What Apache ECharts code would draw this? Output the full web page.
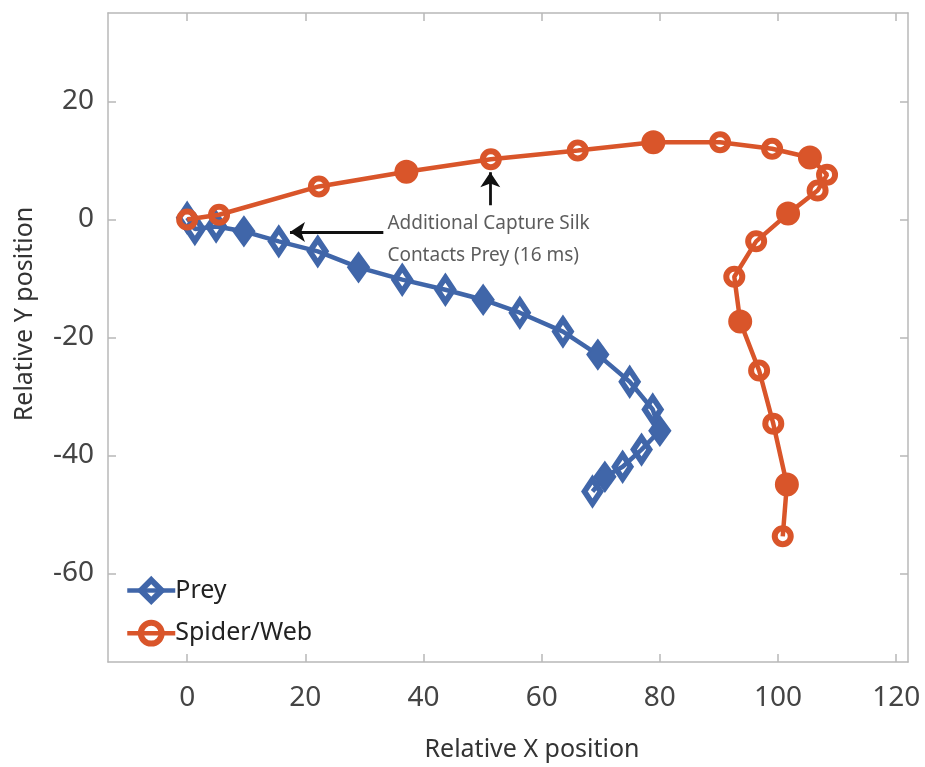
<!DOCTYPE html>
<html>
<head>
<meta charset="utf-8">
<script src="https://cdn.jsdelivr.net/npm/echarts@6/dist/echarts.min.js"></script>
<style>html,body{margin:0;padding:0;background:#fff;}#chart{width:925px;height:767px;}</style>
</head>
<body>
<div id="chart"></div>
<script>
// ---- data ----
const preyX = [0, 1.3, 4.9, 9.6, 15.5, 22.1, 29.0, 36.4, 43.7, 50.1, 56.3, 63.6, 69.5, 74.9, 78.8, 80.0, 76.9, 73.7, 70.7, 68.6];
const preyY = [0.3, -1.6, -1.2, -2.0, -3.7, -5.4, -8.1, -10.2, -11.9, -13.6, -15.8, -19.0, -22.9, -27.5, -32.2, -35.8, -39.0, -41.9, -43.6, -46.1];
const preyFilled = [3, 6, 9, 12, 15, 18];

const spiderX = [0, 5.4, 22.3, 37.1, 51.4, 66.1, 78.9, 90.2, 99.0, 105.4, 108.3, 106.7, 101.7, 96.3, 92.6, 93.6, 96.8, 99.2, 101.5, 100.8];
const spiderY = [0, 0.8, 5.6, 8.1, 10.2, 11.7, 13.1, 13.1, 12.0, 10.5, 7.6, 4.9, 1.0, -3.7, -9.7, -17.3, -25.6, -34.6, -44.9, -53.7];
const spiderFilled = [3, 6, 9, 12, 15, 18];

const xTicks = [0, 20, 40, 60, 80, 100, 120];
const yTicks = [-60, -40, -20, 0, 20];

const seriesNames = ['Prey', 'Spider/Web'];
const annotationText = ['Additional Capture Silk', 'Contacts Prey (16 ms)'];
const annotationAnchor = [33.8, -3.45];
const arrowSilk = [[33.2, -2.1], [17.4, -2.1]];
const arrowWeb = [[51.3, 2.4], [51.3, 8.0]];

// ---- style ----
const BLUE = '#4066a9';
const ORANGE = '#d9552a';
const AXIS = '#b8b8b8';
const FONT = 'Noto Sans';

function build(xs, ys, filled, color, hollowSize, filledSize, bw) {
  return xs.map((x, i) => {
    const f = filled.indexOf(i) >= 0;
    return {
      value: [x, ys[i]],
      symbolSize: f ? filledSize : hollowSize,
      itemStyle: f
        ? { color: color, borderColor: color, borderWidth: 2 }
        : { color: 'rgba(0,0,0,0)', borderColor: color, borderWidth: bw }
    };
  });
}

function xAxisDef(pos, labels) {
  return {
    type: 'value', position: pos, min: -13.4, max: 122,
    axisLine: { show: true, onZero: false, lineStyle: { color: AXIS, width: 1.5 } },
    axisTick: { show: true, inside: true, length: 8, customValues: xTicks, lineStyle: { color: AXIS, width: 1.5 } },
    axisLabel: { show: labels, customValues: xTicks, fontSize: 28, color: '#444', margin: 22, fontFamily: FONT },
    splitLine: { show: false }
  };
}
function yAxisDef(pos, labels) {
  return {
    type: 'value', position: pos, min: -75, max: 35,
    axisLine: { show: true, onZero: false, lineStyle: { color: AXIS, width: 1.5 } },
    axisTick: { show: true, inside: true, length: 8, customValues: yTicks, lineStyle: { color: AXIS, width: 1.5 } },
    axisLabel: { show: labels, customValues: yTicks, fontSize: 28, color: '#444', margin: 14, fontFamily: FONT },
    splitLine: { show: false }
  };
}

const chart = echarts.init(document.getElementById('chart'), null, { renderer: 'canvas' });
chart.setOption({
  animation: false,
  backgroundColor: '#fff',
  grid: { left: 108, top: 13, right: 17, bottom: 105, containLabel: false },
  xAxis: [xAxisDef('bottom', true), xAxisDef('top', false)],
  yAxis: [yAxisDef('left', true), yAxisDef('right', false)],
  legend: {
    data: seriesNames,
    orient: 'vertical', left: 120, top: 572,
    itemWidth: 48, itemHeight: 26, itemGap: 16,
    lineStyle: { width: 4.5 },
    itemStyle: { borderWidth: 6 },
    textStyle: { fontSize: 25, color: '#222', fontFamily: FONT, padding: [0, 0, 0, -5] }
  },
  graphic: [
    { type: 'text', position: [532, 750], style: { text: 'Relative X position', font: '25px "Noto Sans"', fill: '#333', textAlign: 'center', textVerticalAlign: 'middle' } },
    { type: 'text', rotation: Math.PI / 2, position: [25, 314], style: { text: 'Relative Y position', font: '25px "Noto Sans"', fill: '#333', textAlign: 'center', textVerticalAlign: 'middle' } }
  ],
  series: [
    {
      name: seriesNames[0], type: 'line', symbol: 'diamond',
      data: build(preyX, preyY, preyFilled, BLUE, [16, 24], [21, 29], 6),
      lineStyle: { color: BLUE, width: 4.5 },
      itemStyle: { color: 'rgba(0,0,0,0)', borderColor: BLUE, borderWidth: 6 },
      symbolSize: [16, 24], showAllSymbol: true, z: 3
    },
    {
      name: seriesNames[1], type: 'line', symbol: 'circle',
      data: build(spiderX, spiderY, spiderFilled, ORANGE, 16, 22, 6),
      lineStyle: { color: ORANGE, width: 4.5 },
      itemStyle: { color: 'rgba(0,0,0,0)', borderColor: ORANGE, borderWidth: 6 },
      symbolSize: 16, showAllSymbol: true, z: 4
    },
    {
      name: 'arrows', type: 'lines', coordinateSystem: 'cartesian2d',
      data: [{ coords: arrowSilk }, { coords: arrowWeb }],
      symbol: ['none', 'arrow'], symbolSize: 15,
      lineStyle: { color: '#111', width: 2.8, opacity: 1 }, silent: true, z: 5
    },
    {
      name: 'note', type: 'scatter', data: [annotationAnchor], symbolSize: 1,
      itemStyle: { color: 'rgba(0,0,0,0)' }, silent: true,
      label: { show: true, position: 'right', distance: 0, formatter: annotationText.join('\n'),
        fontSize: 19, lineHeight: 32, color: '#333', fontFamily: FONT, align: 'left' },
      z: 5
    }
  ]
});
</script>
</body>
</html>
